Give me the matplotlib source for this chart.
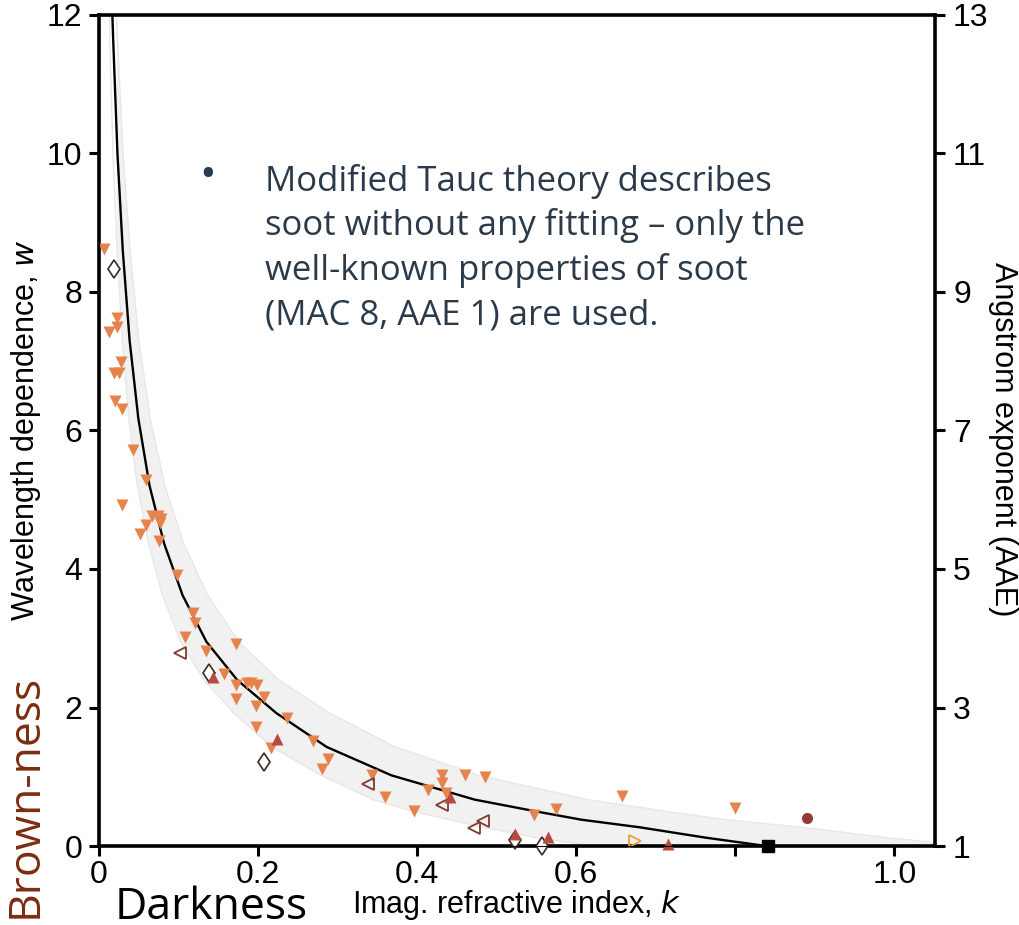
import matplotlib.pyplot as plt
import numpy as np

# ===== DONNEES ===== #

# courbe theorique (Tauc modifie)
curve_k = [0.0171, 0.0183, 0.0235, 0.0302, 0.0388, 0.0498, 0.0639, 0.0821, 0.1054,
           0.1353, 0.1738, 0.2231, 0.2865, 0.3679, 0.4724, 0.554, 0.6065, 0.68,
           0.763, 0.839]
curve_w = [12.0, 11.6, 10.0, 8.6, 7.3, 6.17, 5.2, 4.37, 3.62,
           2.95, 2.4, 1.92, 1.43, 1.02, 0.67, 0.49, 0.38, 0.27,
           0.12, 0.0]

# bande grise (bornes haute et basse)
band_hi_k = [0.0222, 0.0238, 0.0306, 0.0393, 0.0504, 0.0647, 0.0831, 0.1067, 0.137,
             0.176, 0.226, 0.29, 0.3725, 0.478, 0.614, 0.72, 0.788, 0.884, 0.99, 1.051]
band_hi_w = [12.0, 11.6, 10.0, 8.6, 7.3, 6.17, 5.2, 4.37, 3.62,
             2.95, 2.4, 1.92, 1.43, 1.02, 0.67, 0.49, 0.38, 0.27, 0.12, 0.05]
band_lo_k = [0.0135, 0.0139, 0.0179, 0.0230, 0.0295, 0.0378, 0.0486, 0.0624, 0.0801,
             0.1028, 0.132, 0.1696, 0.2177, 0.2796, 0.345, 0.395, 0.479, 0.554, 0.625, 1.051]
band_lo_w = [12.0, 11.6, 10.0, 8.6, 7.3, 6.17, 5.2, 4.37, 3.62,
             2.95, 2.4, 1.92, 1.43, 1.02, 0.67, 0.50, 0.28, 0.11, 0.0, 0.0]

# mesures
down_k = [0.0067, 0.023, 0.023, 0.0126, 0.0276, 0.019, 0.025, 0.021, 0.029, 0.0427,
          0.0594, 0.0289, 0.0665, 0.0748, 0.078, 0.077, 0.059, 0.052, 0.0757, 0.0987,
          0.118, 0.1205, 0.108, 0.1347, 0.172, 0.157, 0.172, 0.1866, 0.191, 0.199,
          0.2075, 0.172, 0.198, 0.237, 0.198, 0.269, 0.216, 0.288, 0.280, 0.343,
          0.360, 0.396, 0.432, 0.432, 0.414, 0.460, 0.486, 0.436, 0.547, 0.575,
          0.657, 0.800]
down_w = [8.62, 7.63, 7.50, 7.42, 6.99, 6.83, 6.83, 6.43, 6.31, 5.72,
          5.29, 4.92, 4.77, 4.77, 4.72, 4.66, 4.63, 4.51, 4.41, 3.92,
          3.36, 3.22, 3.02, 2.82, 2.91, 2.49, 2.32, 2.35, 2.35, 2.32,
          2.15, 2.12, 2.02, 1.85, 1.72, 1.52, 1.41, 1.25, 1.11, 1.03,
          0.71, 0.51, 1.03, 0.91, 0.81, 1.03, 0.99, 0.76, 0.45, 0.54,
          0.72, 0.55]

diam_k = [0.019, 0.138, 0.2075, 0.5235, 0.557]
diam_w = [8.33, 2.50, 1.21, 0.09, 0.0]

left_k = [0.102, 0.339, 0.431, 0.471, 0.483]
left_w = [2.79, 0.89, 0.59, 0.26, 0.36]

up_k = [0.143, 0.224, 0.442, 0.5235, 0.564, 0.716]
up_w = [2.44, 1.55, 0.71, 0.17, 0.13, 0.03]

right_k = [0.674]
right_w = [0.07]

circ_k = [0.8896]
circ_w = [0.40]

sq_k = [0.841]
sq_w = [0.0]

xticks = [0, 0.2, 0.4, 0.6, 0.8, 1.0]
xtick_labels = ["0", "0.2", "0.4", "0.6", "", "1.0"]
yticks = [0, 2, 4, 6, 8, 10, 12]
aae_ticks = [1, 3, 5, 7, 9, 11, 13]

bullet_lines = ["Modified Tauc theory describes",
                "soot without any fitting \u2013 only the",
                "well-known properties of soot",
                "(MAC 8, AAE 1) are used."]

# ===== FIGURE ===== #

plt.rcParams['font.family'] = ['Liberation Sans', 'DejaVu Sans']
segoe = ['Open Sans', 'DejaVu Sans']

fig = plt.figure(figsize=(10.19, 9.25), dpi=100)
ax = fig.add_axes([0.0969, 0.0854, 0.8207, 0.8984])

# bande + courbe
ax.fill_between(band_hi_k, band_hi_w, 0, color='#f1f1f1', lw=0, zorder=1)
ax.fill_between(band_lo_k, band_lo_w, 0, color='white', lw=0, zorder=1)
ax.plot(band_hi_k, band_hi_w, color='#e7e7e7', lw=1, zorder=1)
ax.plot(band_lo_k, band_lo_w, color='#e7e7e7', lw=1, zorder=1)
ax.plot(curve_k, curve_w, color='black', lw=1.7, zorder=2)

# points
ax.plot(down_k, down_w, 'v', ms=9, color='#e6824b', mec='none', zorder=3, clip_on=False)
ax.plot(diam_k, diam_w, 'd', ms=9.5, mfc='white', mec='#3b2a1e', mew=1.2, zorder=4, clip_on=False)
ax.plot(left_k, left_w, '<', ms=8.5, mfc='none', mec='#7f3a30', mew=1.3, zorder=4, clip_on=False)
ax.plot(up_k, up_w, '^', ms=9, color='#b94a3e', mec='none', zorder=4, clip_on=False)
ax.plot(right_k, right_w, '>', ms=8.5, mfc='none', mec='#f0a030', mew=1.3, zorder=4, clip_on=False)
ax.plot(circ_k, circ_w, 'o', ms=8, color='#963a36', mec='none', zorder=4, clip_on=False)
ax.plot(sq_k, sq_w, 's', ms=8, color='black', zorder=5, clip_on=False)

ax.set_xlim(0, 1.051)
ax.set_ylim(0, 12)
ax.set_xticks(xticks)
ax.set_xticklabels(xtick_labels)
ax.set_yticks(yticks)
ax.tick_params(width=2.2, length=7, labelsize=23, pad=5)
ax.tick_params(axis='x', pad=3)
for s in ['left', 'bottom', 'right', 'top']:
    ax.spines[s].set_linewidth(2.6)

ax2 = ax.twinx()
ax2.set_ylim(1, 13)
ax2.set_yticks(aae_ticks)
ax2.tick_params(width=2.2, length=7, labelsize=23, pad=6)
ax2.set_ylabel("Angstrom exponent (AAE)", fontsize=22, rotation=270, va='bottom')
ax2.yaxis.set_label_coords(1.063, 0.49)

ax.set_ylabel("Wavelength dependence, $w$", fontsize=22)
ax.yaxis.set_label_coords(-0.067, 0.5)
ax.set_xlabel("Imag. refractive index, $k$", fontsize=22, va='top')
ax.xaxis.set_label_coords(0.5, -0.051)

# textes annexes
fig.text(0.112, 0.007, "Darkness", fontsize=32, family=segoe,
         color='black', ha='left', va='baseline')
fig.text(0.003, 0.008, "Brown-ness", fontsize=32, family=segoe,
         color='#7b2d10', rotation=90, ha='left', va='bottom')

fig.text(0.196, 0.797, "\u2022", fontsize=32, family=segoe,
         color='#2b3a4a', ha='left', va='baseline')
for i, line in enumerate(bullet_lines):
    fig.text(0.26, 0.794 - i * 0.0483, line, fontsize=25, family=segoe,
             color='#2b3a4a', ha='left', va='baseline')

fig.savefig("out.png", dpi=100)
